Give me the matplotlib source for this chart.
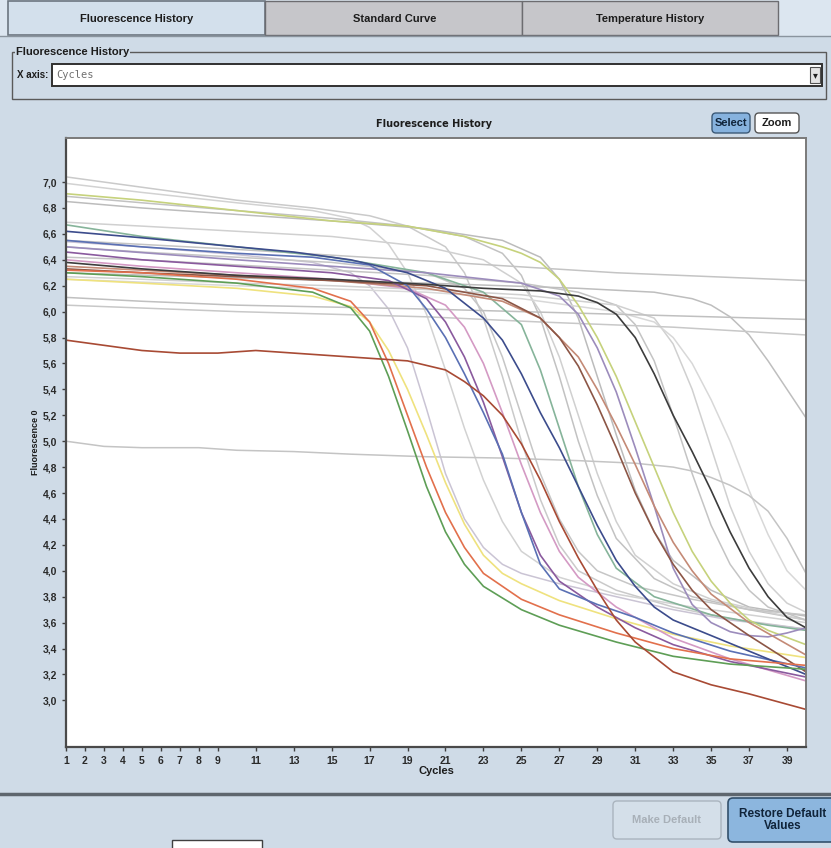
import matplotlib
matplotlib.use('Agg')
import matplotlib.pyplot as plt
from matplotlib.patches import Rectangle, FancyBboxPatch
from matplotlib.ticker import FixedLocator, FuncFormatter

# ---------------------------------------------------------------
# DATA  (cycle, fluorescence) keypoints
# ---------------------------------------------------------------
green_x = [1, 5, 10, 14, 16, 17, 18, 19, 20, 21, 22, 23, 25, 27, 30, 33, 36, 40]
green_y = [6.30, 6.27, 6.22, 6.15, 6.03, 5.85, 5.50, 5.08, 4.65, 4.30, 4.05, 3.88, 3.70, 3.58, 3.45, 3.34, 3.28, 3.24]

orange_x = [1, 5, 10, 14, 16, 17, 18, 19, 20, 21, 22, 23, 25, 27, 30, 33, 36, 40]
orange_y = [6.32, 6.30, 6.25, 6.18, 6.08, 5.92, 5.60, 5.20, 4.80, 4.45, 4.18, 3.98, 3.78, 3.66, 3.52, 3.40, 3.32, 3.27]

yellow_x = [1, 5, 10, 14, 16, 17, 18, 19, 20, 21, 22, 23, 24, 25, 27, 30, 33, 36, 40]
yellow_y = [6.25, 6.22, 6.18, 6.12, 6.04, 5.92, 5.70, 5.40, 5.05, 4.68, 4.36, 4.12, 3.98, 3.90, 3.77, 3.63, 3.51, 3.42, 3.33]

darkred_x = [1, 3, 5, 7, 9, 11, 13, 15, 17, 19, 21, 22, 23, 24, 25, 26, 27, 28, 29, 30, 31, 33, 35, 37, 40]
darkred_y = [5.78, 5.74, 5.70, 5.68, 5.68, 5.70, 5.68, 5.66, 5.64, 5.62, 5.55, 5.46, 5.35, 5.20, 4.98, 4.70, 4.38, 4.10, 3.85, 3.62, 3.45, 3.22, 3.12, 3.05, 2.93]

black_x = [1, 5, 10, 15, 20, 23, 26, 28, 29, 30, 31, 32, 33, 34, 35, 36, 37, 38, 39, 40]
black_y = [6.38, 6.33, 6.28, 6.25, 6.21, 6.18, 6.16, 6.12, 6.07, 5.98, 5.80, 5.52, 5.20, 4.92, 4.62, 4.30, 4.02, 3.80, 3.64, 3.56]

lime_x = [1, 5, 10, 15, 19, 22, 24, 25, 26, 27, 28, 29, 30, 31, 32, 33, 34, 35, 36, 37, 38, 40]
lime_y = [6.91, 6.86, 6.78, 6.70, 6.66, 6.58, 6.50, 6.45, 6.38, 6.25, 6.05, 5.80, 5.50, 5.15, 4.80, 4.45, 4.15, 3.92, 3.75, 3.62, 3.54, 3.43]

blue_x = [1, 5, 10, 14, 17, 19, 20, 21, 22, 23, 24, 25, 26, 27, 29, 31, 33, 36, 40]
blue_y = [6.55, 6.50, 6.45, 6.42, 6.36, 6.20, 6.02, 5.80, 5.52, 5.22, 4.90, 4.45, 4.05, 3.86, 3.74, 3.64, 3.52, 3.38, 3.25]

navy_x = [1, 5, 10, 13, 16, 19, 21, 23, 24, 25, 26, 27, 28, 29, 30, 31, 32, 33, 35, 37, 40]
navy_y = [6.62, 6.57, 6.50, 6.46, 6.40, 6.30, 6.18, 5.95, 5.78, 5.52, 5.22, 4.95, 4.65, 4.35, 4.08, 3.88, 3.72, 3.62, 3.50, 3.38, 3.20]

purple_x = [1, 5, 10, 15, 18, 20, 21, 22, 23, 24, 25, 26, 27, 29, 31, 33, 36, 40]
purple_y = [6.46, 6.40, 6.35, 6.30, 6.24, 6.10, 5.92, 5.65, 5.30, 4.88, 4.45, 4.12, 3.92, 3.72, 3.56, 3.43, 3.30, 3.18]

pink_x = [1, 5, 10, 15, 19, 21, 22, 23, 24, 25, 26, 27, 28, 30, 33, 36, 40]
pink_y = [6.40, 6.35, 6.30, 6.25, 6.18, 6.05, 5.88, 5.60, 5.22, 4.82, 4.45, 4.15, 3.95, 3.72, 3.48, 3.32, 3.15]

violet_x = [1, 10, 20, 25, 27, 28, 29, 30, 31, 32, 33, 34, 35, 36, 37, 38, 39, 40]
violet_y = [6.50, 6.40, 6.30, 6.22, 6.12, 5.98, 5.72, 5.38, 4.95, 4.50, 4.02, 3.74, 3.60, 3.53, 3.50, 3.49, 3.52, 3.56]

brown_x = [1, 5, 10, 15, 20, 24, 26, 27, 28, 29, 30, 31, 32, 33, 34, 35, 37, 40]
brown_y = [6.33, 6.30, 6.27, 6.24, 6.20, 6.10, 5.95, 5.80, 5.58, 5.28, 4.95, 4.60, 4.30, 4.05, 3.85, 3.70, 3.50, 3.22]

rose_x = [1, 5, 10, 15, 20, 24, 26, 28, 29, 30, 31, 32, 33, 34, 35, 37, 40]
rose_y = [6.35, 6.32, 6.28, 6.24, 6.18, 6.08, 5.95, 5.65, 5.40, 5.12, 4.82, 4.50, 4.22, 4.00, 3.82, 3.60, 3.35]

teal_x = [1, 5, 10, 15, 20, 23, 25, 26, 27, 28, 29, 30, 32, 35, 38, 40]
teal_y = [6.67, 6.58, 6.50, 6.42, 6.30, 6.15, 5.90, 5.55, 5.10, 4.65, 4.28, 4.02, 3.80, 3.66, 3.58, 3.54]

# light grey (unselected) wells
g1_x = [1, 5, 10, 14, 17, 19, 21, 22, 23, 24, 25, 26, 27, 28, 30, 33, 36, 40]
g1_y = [7.04, 6.96, 6.86, 6.80, 6.74, 6.66, 6.50, 6.30, 5.95, 5.50, 5.00, 4.55, 4.20, 4.00, 3.85, 3.72, 3.63, 3.55]

g2_x = [1, 5, 10, 14, 16, 17, 18, 19, 20, 21, 22, 23, 24, 25, 27, 30, 34, 40]
g2_y = [6.99, 6.92, 6.84, 6.78, 6.72, 6.65, 6.52, 6.30, 5.98, 5.55, 5.10, 4.70, 4.38, 4.15, 3.95, 3.82, 3.72, 3.60]

g3_x = [1, 5, 10, 15, 19, 22, 24, 25, 26, 27, 28, 29, 30, 32, 34, 37, 40]
g3_y = [6.89, 6.84, 6.78, 6.72, 6.66, 6.58, 6.45, 6.28, 5.95, 5.50, 5.00, 4.58, 4.25, 3.94, 3.80, 3.70, 3.62]

g4_x = [1, 5, 10, 15, 20, 24, 26, 27, 28, 29, 30, 31, 32, 33, 35, 37, 40]
g4_y = [6.85, 6.80, 6.75, 6.70, 6.64, 6.55, 6.42, 6.25, 5.95, 5.50, 5.05, 4.62, 4.30, 4.08, 3.85, 3.72, 3.65]

g5_x = [1, 5, 10, 15, 20, 23, 25, 26, 27, 28, 29, 30, 31, 33, 35, 38, 40]
g5_y = [6.69, 6.66, 6.62, 6.58, 6.50, 6.40, 6.22, 6.00, 5.65, 5.20, 4.75, 4.38, 4.12, 3.90, 3.78, 3.68, 3.62]

g6_x = [1, 5, 10, 14, 16, 17, 18, 19, 20, 21, 22, 23, 24, 25, 27, 30, 33, 36, 40]
g6_y = [6.54, 6.50, 6.44, 6.38, 6.30, 6.20, 6.02, 5.72, 5.25, 4.75, 4.40, 4.18, 4.05, 3.98, 3.90, 3.80, 3.70, 3.62, 3.55]

g7_x = [1, 5, 10, 15, 20, 22, 23, 24, 25, 26, 27, 28, 29, 31, 34, 37, 40]
g7_y = [6.50, 6.46, 6.42, 6.38, 6.30, 6.18, 6.00, 5.65, 5.20, 4.75, 4.40, 4.15, 4.00, 3.88, 3.78, 3.70, 3.66]

g8_x = [1, 5, 10, 15, 20, 25, 28, 30, 31, 32, 33, 34, 35, 36, 37, 38, 40]
g8_y = [6.42, 6.40, 6.36, 6.32, 6.28, 6.22, 6.15, 6.05, 5.90, 5.62, 5.20, 4.75, 4.35, 4.05, 3.85, 3.72, 3.62]

g9_x = [1, 5, 10, 15, 20, 25, 30, 32, 33, 34, 35, 36, 37, 38, 39, 40]
g9_y = [6.27, 6.25, 6.22, 6.20, 6.17, 6.13, 6.05, 5.95, 5.75, 5.40, 4.95, 4.50, 4.15, 3.90, 3.75, 3.68]

g10_x = [1, 10, 20, 25, 30, 32, 33, 34, 35, 36, 37, 38, 39, 40]
g10_y = [6.25, 6.20, 6.15, 6.10, 6.00, 5.92, 5.80, 5.60, 5.32, 5.00, 4.62, 4.28, 4.00, 3.85]

g11_x = [1, 10, 20, 28, 32, 34, 35, 36, 37, 38, 39, 40]
g11_y = [6.30, 6.26, 6.22, 6.18, 6.15, 6.10, 6.05, 5.96, 5.82, 5.62, 5.40, 5.18]

flat1_x = [1, 10, 19, 30, 40]
flat1_y = [6.55, 6.48, 6.40, 6.30, 6.24]

flat2_x = [1, 5, 10, 20, 30, 40]
flat2_y = [6.11, 6.08, 6.05, 6.02, 5.98, 5.94]

flat3_x = [1, 10, 20, 26, 33, 40]
flat3_y = [6.05, 6.00, 5.96, 5.92, 5.88, 5.82]

low_x = [1, 3, 5, 8, 10, 13, 16, 20, 24, 28, 31, 33, 34, 35, 36, 37, 38, 39, 40]
low_y = [5.00, 4.96, 4.95, 4.95, 4.93, 4.92, 4.90, 4.88, 4.87, 4.85, 4.83, 4.80, 4.77, 4.72, 4.66, 4.58, 4.46, 4.25, 3.98]

x_ticks = [1, 2, 3, 4, 5, 6, 7, 8, 9, 11, 13, 15, 17, 19, 21, 23, 25, 27, 29, 31, 33, 35, 37, 39]
y_ticks = [3.0, 3.2, 3.4, 3.6, 3.8, 4.0, 4.2, 4.4, 4.6, 4.8, 5.0, 5.2, 5.4, 5.6, 5.8, 6.0, 6.2, 6.4, 6.6, 6.8, 7.0]

# ---------------------------------------------------------------
W, H = 831, 848
BG = '#cfdbe7'
NARROW = ['Liberation Sans Narrow', 'Liberation Sans', 'DejaVu Sans']

def px_rect(x0, y0, x1, y1):
    return [x0 / W, 1 - y1 / H, (x1 - x0) / W, (y1 - y0) / H]

fig = plt.figure(figsize=(W / 100, H / 100), dpi=100)
fig.patch.set_facecolor(BG)

# overlay axes in pixel coordinates for the window chrome
ui = fig.add_axes([0, 0, 1, 1])
ui.set_xlim(0, W)
ui.set_ylim(H, 0)
ui.axis('off')
ui.set_facecolor('none')

# tabs
ui.add_patch(Rectangle((0, 0), W, 36, facecolor='#dce6f0', edgecolor='none'))
ui.add_patch(Rectangle((8, 1), 257, 34, facecolor='#d3e0ec', edgecolor='#6c7680', lw=1.2))
ui.add_patch(Rectangle((265, 1), 257, 34, facecolor='#c6c6ca', edgecolor='#6c6c70', lw=1))
ui.add_patch(Rectangle((522, 1), 256, 34, facecolor='#c6c6ca', edgecolor='#6c6c70', lw=1))
ui.plot([0, W], [36, 36], color='#8a949e', lw=1)
for tx, label in [(137, 'Fluorescence History'), (395, 'Standard Curve'), (650, 'Temperature History')]:
    ui.text(tx, 19, label, ha='center', va='center', fontsize=8, fontweight='bold',
            family=NARROW, color='#1c1c1c')

# group box with X axis selector
ui.add_patch(Rectangle((12, 52), 814, 47, facecolor='none', edgecolor='#5a5a5a', lw=1))
ui.text(16, 52, 'Fluorescence History', ha='left', va='center', fontsize=8, fontweight='bold',
        family=NARROW, color='#1c1c1c', bbox=dict(facecolor=BG, edgecolor='none', pad=0.5))
ui.text(17, 75, 'X axis:', ha='left', va='center', fontsize=7, fontweight='bold',
        family=NARROW, color='#1c1c1c')
ui.add_patch(Rectangle((52, 64), 770, 22, facecolor='white', edgecolor='#303030', lw=1.4))
ui.text(56, 75, 'Cycles', ha='left', va='center', fontsize=7.5, family='DejaVu Sans Mono',
        color='#707070')
ui.add_patch(Rectangle((810, 67), 10, 16, facecolor='#e4e4e4', edgecolor='#505050', lw=0.8))
ui.text(815, 75, '\u25be', ha='center', va='center', fontsize=7, color='#202020')

# chart title and mode buttons
ui.text(434, 124, 'Fluorescence History', ha='center', va='center', fontsize=7,
        fontweight='bold', color='#1c1c1c')
ui.add_patch(FancyBboxPatch((712, 113), 38, 20, boxstyle='round,pad=0,rounding_size=4',
                            facecolor='#86b2de', edgecolor='#3c5a78', lw=1))
ui.text(731, 123, 'Select', ha='center', va='center', fontsize=8, fontweight='bold',
        family=NARROW, color='#10243a')
ui.add_patch(FancyBboxPatch((755, 113), 44, 20, boxstyle='round,pad=0,rounding_size=4',
                            facecolor='white', edgecolor='#555555', lw=1))
ui.text(777, 123, 'Zoom', ha='center', va='center', fontsize=8, fontweight='bold',
        family=NARROW, color='#1c1c1c')

# separator and bottom buttons
ui.plot([0, W], [794, 794], color='#5e666e', lw=2.5)
ui.add_patch(FancyBboxPatch((613, 801), 108, 38, boxstyle='round,pad=0,rounding_size=4',
                            facecolor='#d4dfe9', edgecolor='#aab4be', lw=1))
ui.text(667, 820, 'Make Default', ha='center', va='center', fontsize=8, fontweight='bold',
        family=NARROW, color='#a8b0b8')
ui.add_patch(FancyBboxPatch((728, 798), 110, 44, boxstyle='round,pad=0,rounding_size=5',
                            facecolor='#8cb6de', edgecolor='#33506c', lw=1.2))
ui.text(783, 820, 'Restore Default\nValues', ha='center', va='center', fontsize=8.5,
        fontweight='bold', family=NARROW, color='#10243a', linespacing=1.1)
ui.add_patch(Rectangle((172, 840), 90, 12, facecolor='white', edgecolor='#404040', lw=1))

# ---------------------------------------------------------------
# the amplification plot
# ---------------------------------------------------------------
ax = fig.add_axes(px_rect(66, 138, 806, 747))
ax.set_facecolor('white')

grey_curves = [(g1_x, g1_y, '#cacaca'), (g2_x, g2_y, '#d2d2d2'), (g3_x, g3_y, '#c2c2c2'),
               (g4_x, g4_y, '#bcbcbc'), (g5_x, g5_y, '#d0d0d0'), (g6_x, g6_y, '#cac4d4'),
               (g7_x, g7_y, '#c6c6c6'), (g8_x, g8_y, '#c4c4c4'), (g9_x, g9_y, '#d0d0d0'),
               (g10_x, g10_y, '#d8d8d8'), (g11_x, g11_y, '#bebebe'),
               (flat1_x, flat1_y, '#c4c4c4'), (flat2_x, flat2_y, '#c0c0c0'),
               (flat3_x, flat3_y, '#c8c8c8'), (low_x, low_y, '#c4c4c4')]
for xs, ys, c in grey_curves:
    ax.plot(xs, ys, color=c, lw=1.1)

colour_curves = [(teal_x, teal_y, '#86b49a'), (lime_x, lime_y, '#c6d27c'),
                 (yellow_x, yellow_y, '#efe27e'), (pink_x, pink_y, '#d49ac4'),
                 (violet_x, violet_y, '#9c8cbc'), (rose_x, rose_y, '#c48a76'),
                 (brown_x, brown_y, '#8c5646'), (purple_x, purple_y, '#8a5a9e'),
                 (blue_x, blue_y, '#5a70b4'), (navy_x, navy_y, '#3c4c8c'),
                 (green_x, green_y, '#5e9e56'), (orange_x, orange_y, '#e2704c'),
                 (darkred_x, darkred_y, '#a84a34'), (black_x, black_y, '#3c3c3c')]
for xs, ys, c in colour_curves:
    ax.plot(xs, ys, color=c, lw=1.2)

ax.set_xlim(1, 40)
ax.set_ylim(2.64, 7.34)
ax.xaxis.set_major_locator(FixedLocator(x_ticks))
ax.yaxis.set_major_locator(FixedLocator(y_ticks))
ax.yaxis.set_major_formatter(FuncFormatter(lambda v, p: ('%.1f' % v).replace('.', ',')))
ax.tick_params(axis='both', direction='out', length=3, width=1, colors='#404040',
               labelsize=7.5, labelcolor='#2a2a2a')
for lbl in ax.get_xticklabels() + ax.get_yticklabels():
    lbl.set_family(NARROW)
    lbl.set_fontweight('bold')
for side in ['left', 'bottom']:
    ax.spines[side].set_color('#4a4a4a')
    ax.spines[side].set_linewidth(1.6)
for side in ['top', 'right']:
    ax.spines[side].set_color('#7a7a7a')
    ax.spines[side].set_linewidth(1.4)

ax.set_xlabel('Cycles', fontsize=8, fontweight='bold', family=NARROW, color='#1c1c1c', labelpad=0)
ax.set_ylabel('Fluorescence 0', fontsize=6.5, fontweight='bold', family=NARROW, color='#1c1c1c',
              labelpad=2)

fig.savefig('out.png', dpi=100, facecolor=fig.get_facecolor())
